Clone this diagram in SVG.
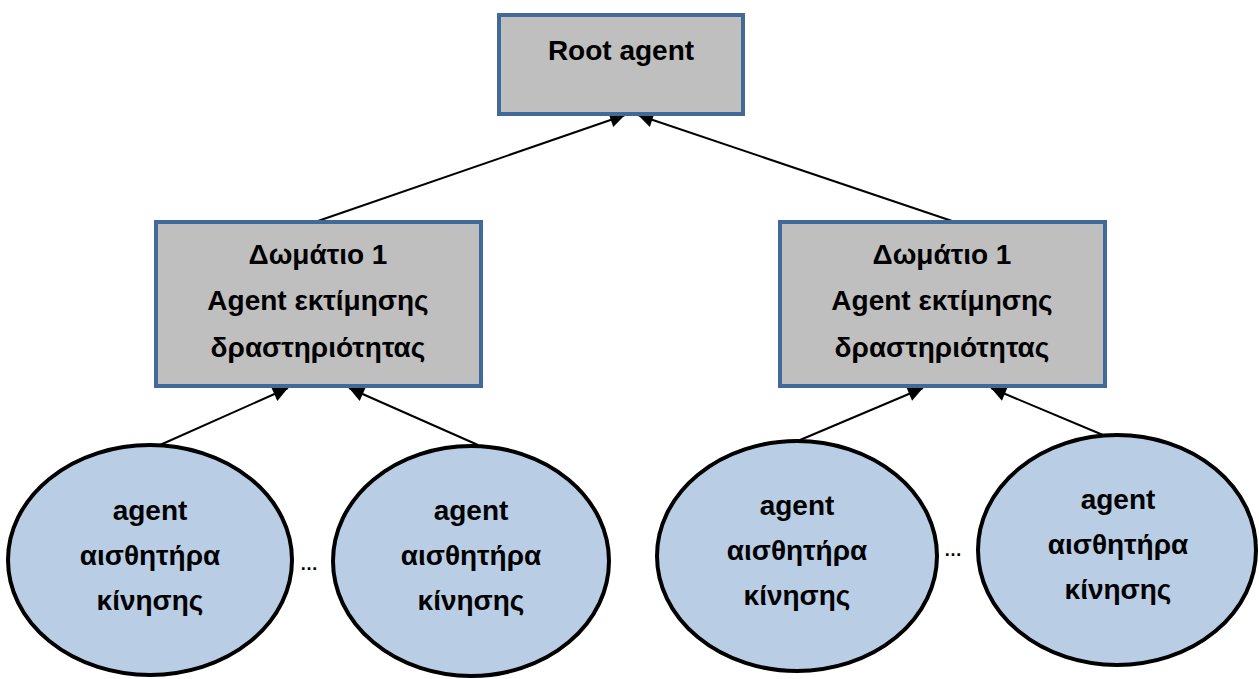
<svg xmlns="http://www.w3.org/2000/svg" width="1259" height="679" viewBox="0 0 1259 679">
<style>
.box{fill:#BFBFBF;stroke:#41699A;stroke-width:4}
.ell{fill:#B9CDE5;stroke:#000;stroke-width:4}
.t{font-family:"Liberation Sans",Arial,sans-serif;font-weight:bold;font-size:28px;fill:#000;text-anchor:middle}
.dots{font-family:"Liberation Sans",Arial,sans-serif;font-weight:bold;font-size:18px;fill:#000;text-anchor:middle}
.c{stroke:#000;stroke-width:2;fill:none;marker-end:url(#ah)}
</style>
<defs>
<marker id="ah" viewBox="0 0 10 10" refX="10" refY="5" markerWidth="8.5" markerHeight="7.5" markerUnits="strokeWidth" orient="auto">
<path d="M0,0 L10,5 L0,10 z" fill="#000"/>
</marker>
</defs>
<rect width="1259" height="679" fill="#fff"/>
<g id="connectors">
<line class="c" x1="315" y1="222" x2="625" y2="115"/>
<line class="c" x1="955" y1="222" x2="638" y2="115"/>
<line class="c" x1="160" y1="445" x2="288" y2="388"/>
<line class="c" x1="478" y1="445" x2="349" y2="388"/>
<line class="c" x1="800" y1="440" x2="923" y2="388"/>
<line class="c" x1="1103" y1="435" x2="991" y2="388"/>
</g>
<g id="root">
<rect class="box" x="499" y="15" width="244" height="99"/>
<text class="t" x="621" y="60">Root agent</text>
</g>
<g id="room-left">
<rect class="box" x="156" y="222" width="325" height="164"/>
<text class="t" x="318" y="264">Δωμάτιο 1</text>
<text class="t" x="318" y="310">Agent εκτίμησης</text>
<text class="t" x="318" y="357">δραστηριότητας</text>
</g>
<g id="room-right">
<rect class="box" x="780" y="222" width="325" height="164"/>
<text class="t" x="942" y="264">Δωμάτιο 1</text>
<text class="t" x="942" y="310">Agent εκτίμησης</text>
<text class="t" x="942" y="357">δραστηριότητας</text>
</g>
<g id="sensor-l1">
<ellipse class="ell" cx="150" cy="560" rx="142" ry="115"/>
<text class="t" x="150" y="520">agent</text>
<text class="t" x="150" y="565">αισθητήρα</text>
<text class="t" x="150" y="610">κίνησης</text>
</g>
<g id="dots-left"><text class="dots" x="309" y="570">…</text></g>
<g id="sensor-l2">
<ellipse class="ell" cx="471" cy="561" rx="138" ry="115"/>
<text class="t" x="471" y="520">agent</text>
<text class="t" x="471" y="565">αισθητήρα</text>
<text class="t" x="471" y="610">κίνησης</text>
</g>
<g id="sensor-r1">
<ellipse class="ell" cx="797" cy="556" rx="140" ry="115"/>
<text class="t" x="797" y="515">agent</text>
<text class="t" x="797" y="560">αισθητήρα</text>
<text class="t" x="797" y="605">κίνησης</text>
</g>
<g id="dots-right"><text class="dots" x="953" y="556">…</text></g>
<g id="sensor-r2">
<ellipse class="ell" cx="1117" cy="550" rx="139" ry="115"/>
<text class="t" x="1118" y="509">agent</text>
<text class="t" x="1118" y="554">αισθητήρα</text>
<text class="t" x="1118" y="599">κίνησης</text>
</g>
</svg>
